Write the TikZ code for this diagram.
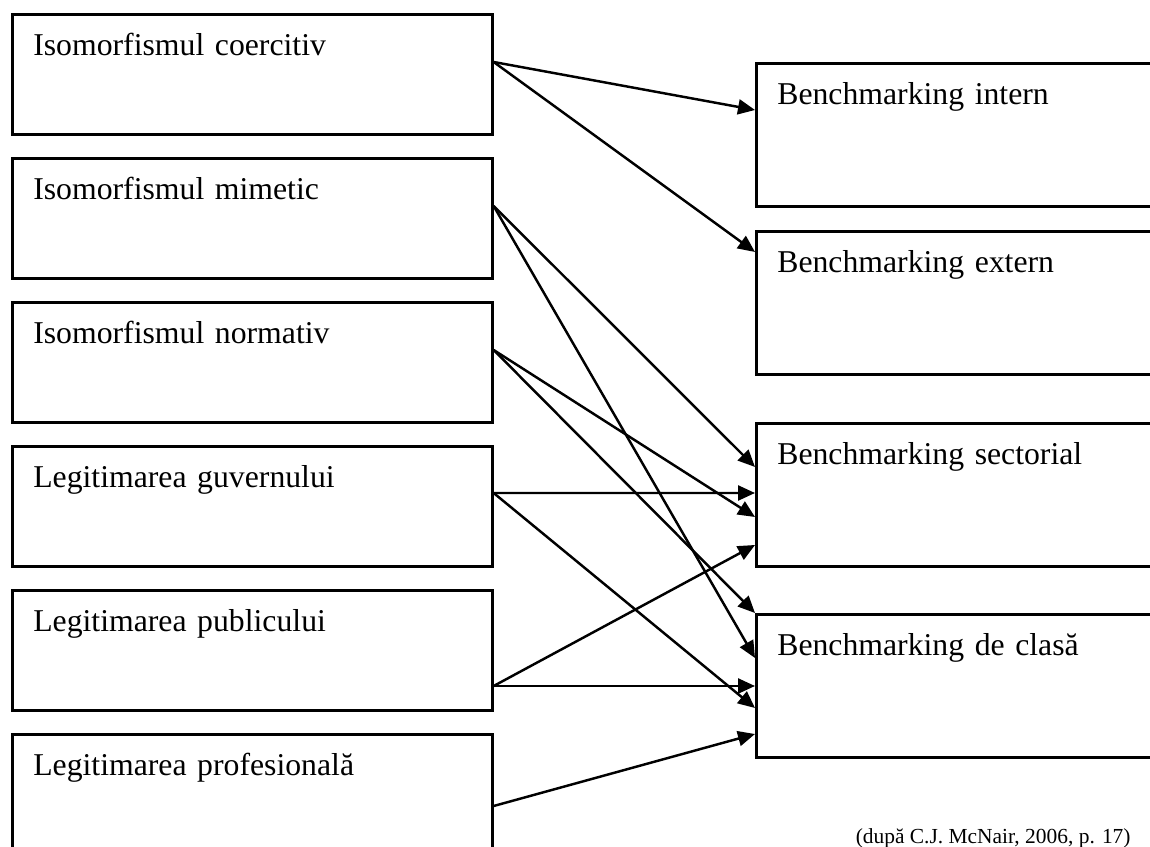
\documentclass[tikz,border=0pt]{standalone}
\usepackage{fontspec}
\setmainfont{Liberation Serif}
\usetikzlibrary{arrows.meta}

\begin{document}
\begin{tikzpicture}[
  leftbox/.style={draw,rectangle,line width=0.75pt,anchor=north west,align=left,
    text width=4.38cm,inner xsep=0.21cm,inner ysep=0pt,
    text height=0.41cm,text depth=0.79cm,font=\fontsize{9.03}{10.8}\selectfont},
  rightbox/.style={leftbox,text width=4.2cm,text depth=1.02cm},
  link/.style={line width=0.7pt,-{Triangle[length=0.17cm,width=0.15cm]}}]
\useasboundingbox (0,0) rectangle (11.5,-8.47);
\clip (0,0) rectangle (11.5,-8.47);
% factors
\node [leftbox] (f1) at(0.11,-0.13){Isomorfismul coercitiv};
\node [leftbox] (f2) at(0.11,-1.57){Isomorfismul mimetic};
\node [leftbox] (f3) at(0.11,-3.01){Isomorfismul normativ};
\node [leftbox] (f4) at(0.11,-4.45){Legitimarea guvernului};
\node [leftbox] (f5) at(0.11,-5.89){Legitimarea publicului};
\node [leftbox] (f6) at(0.11,-7.33){Legitimarea profesională};
% benchmarking types
\node [rightbox] (b1) at(7.55,-0.62){Benchmarking intern};
\node [rightbox] (b2) at(7.55,-2.30){Benchmarking extern};
\node [rightbox] (b3) at(7.55,-4.22){Benchmarking sectorial};
\node [rightbox] (b4) at(7.55,-6.13){Benchmarking de clasă};
\node [anchor=base east,font=\fontsize{6.1}{7.3}\selectfont] (src) at(11.43,-8.43){(după C.J. McNair, 2006, p. 17)};
\draw[link] ([yshift=-0.49cm]f1.north east) -- ([yshift=-0.48cm]b1.north west);
\draw[link] ([yshift=-0.49cm]f1.north east) -- ([yshift=-0.22cm]b2.north west);
\draw[link] ([yshift=-0.49cm]f2.north east) -- ([yshift=-0.45cm]b3.north west);
\draw[link] ([yshift=-0.49cm]f2.north east) -- ([yshift=-0.45cm]b4.north west);
\draw[link] ([yshift=-0.49cm]f3.north east) -- ([yshift=-0.95cm]b3.north west);
\draw[link] ([yshift=-0.49cm]f3.north east) -- (b4.north west);
\draw[link] ([yshift=-0.48cm]f4.north east) -- ([yshift=-0.71cm]b3.north west);
\draw[link] ([yshift=-0.48cm]f4.north east) -- ([yshift=-0.95cm]b4.north west);
\draw[link] ([yshift=-0.97cm]f5.north east) -- ([yshift=-1.23cm]b3.north west);
\draw[link] ([yshift=-0.97cm]f5.north east) -- ([yshift=-0.73cm]b4.north west);
\draw[link] ([yshift=-0.73cm]f6.north east) -- ([yshift=-1.21cm]b4.north west);
\end{tikzpicture}
\end{document}
